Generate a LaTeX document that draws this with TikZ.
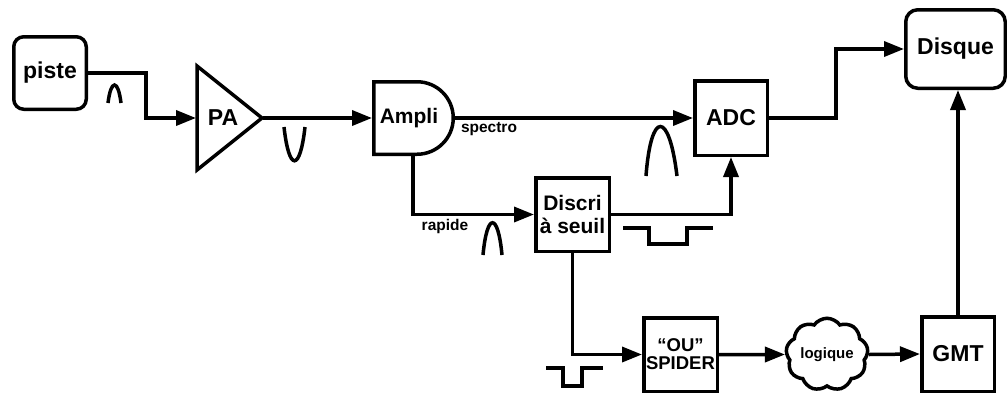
\documentclass[tikz,border=0pt]{standalone}
\usepackage{fontspec}
\setmainfont{Liberation Sans}
\usetikzlibrary{arrows.meta,shapes.symbols}
\begin{document}
\begin{tikzpicture}[x=1pt,y=-1pt,
  lw/.style={line width=3.5pt},
  box/.style={draw,lw,rectangle,inner sep=0pt,font=\fontsize{23}{25}\selectfont\bfseries},
  conn/.style={lw,-{Triangle[length=20pt,width=15pt]}},
  wire/.style={lw},
  pulse/.style={lw},
  lbl/.style={inner sep=0pt,font=\fontsize{15.5}{17}\selectfont\bfseries}]
\useasboundingbox (0,0) rectangle (1007,394);
% blocks
\node[box,rounded corners=10pt,minimum width=72.5pt,minimum height=72.5pt] (piste) at (50,73) {piste};
\node[box,minimum width=72.5pt,minimum height=74.5pt] (ADC) at (731,118) {ADC};
\node[box,minimum width=73.5pt,minimum height=73.5pt,align=center,font=\fontsize{21}{23}\selectfont\bfseries] (Discri) at (572.5,214.5) {Discri\\à seuil};
\node[box,minimum width=73.5pt,minimum height=73.5pt,align=center,font=\fontsize{18.5}{18}\selectfont\bfseries] (SPIDER) at (680.5,354.5) {“OU”\\SPIDER};
\node[box,minimum width=72.5pt,minimum height=74.5pt] (GMT) at (958,354) {GMT};
\node[box,rounded corners=12pt,minimum width=99.5pt,minimum height=78.5pt] (Disque) at (955.5,49) {Disque};
\node[draw,lw,cloud,cloud puffs=9,cloud puff arc=110,aspect=1.2,minimum width=76pt,minimum height=62pt,inner sep=0pt,font=\fontsize{15}{16}\selectfont\bfseries] (logique) at (827,354.5) {logique};
% PA triangle
\draw[lw,line join=miter] (197,66) -- (262,118) -- (197,170) -- cycle;
\node[inner sep=0pt,font=\fontsize{23}{25}\selectfont\bfseries] (PA) at (223,118) {PA};
\coordinate (PAin) at (196,118);
\coordinate (PAout) at (263,118);
% Ampli D shape
\draw[lw] (373.75,81.75) -- (417,81.75) arc[start angle=90,end angle=-90,radius=36.25pt] -- (373.75,154.25) -- cycle;
\node[inner sep=0pt,font=\fontsize{21}{23}\selectfont\bfseries] (Ampli) at (409,118) {Ampli};
\coordinate (AmpliIn) at (372,118);
\coordinate (AmpliOut) at (454,118);
\coordinate (AmpliB) at (413,155);
% connectors
\draw[conn] (piste.east) -- ++(58,0) |- (PAin);
\draw[conn] (PAout) -- (AmpliIn);
\draw[conn] (AmpliOut) -- (ADC.west);
\draw[conn] (AmpliB) |- (Discri.west);
\draw[conn] (Discri.east) -| (ADC.south);
\draw[conn] (ADC.east) -- ++(67,0) |- (Disque.west);
\draw[conn] (Discri.south) |- (SPIDER.west);
\draw[conn] (SPIDER.east) -- (logique.west);
\draw[conn] (logique.east) -- (GMT.west);
\draw[conn] (GMT.north) -- (GMT.north |- Disque.south);
% labels
\node[lbl] (spectro) at (489,129) {spectro};
\node[lbl] (rapide) at (445,226) {rapide};
% pulses
\draw[pulse] (108,103) .. controls (111,79) and (118,79) .. (121,103);
\draw[pulse] (284,127) .. controls (289,172) and (300,172) .. (305,127);
\draw[pulse] (483,255) .. controls (487,212) and (498,212) .. (502,255);
\draw[pulse] (646,176) .. controls (651,110) and (669,110) .. (677,176);
\draw[wire] (623,228) -- (649,228) -- (649,244) -- (687,244) -- (687,228) -- (713,228);
\draw[wire] (546,368) -- (563,368) -- (563,386) -- (582,386) -- (582,368) -- (603,368);
\end{tikzpicture}
\end{document}
